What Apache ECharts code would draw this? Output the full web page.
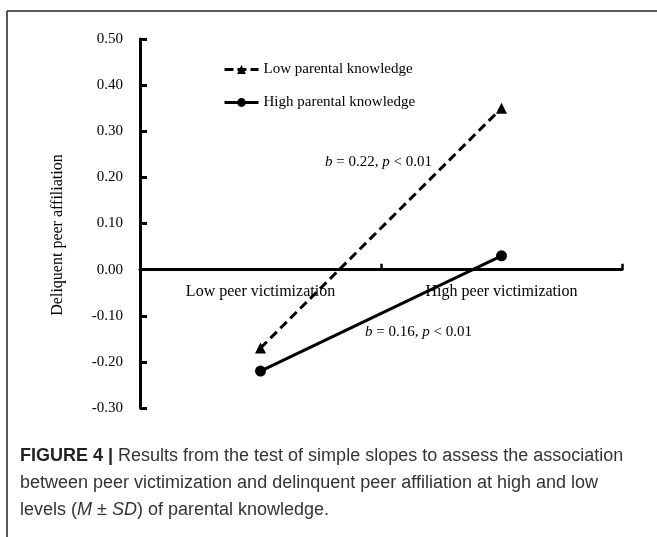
<!DOCTYPE html>
<html>
<head>
<meta charset="utf-8">
<script src="https://cdn.jsdelivr.net/npm/echarts@6/dist/echarts.min.js"></script>
<style>html,body{margin:0;padding:0;background:#fff;}#chart{width:657px;height:537px;}</style>
</head>
<body>
<div id="chart"></div>
<script>
const categories = ['Low peer victimization', 'High peer victimization'];
const lowKnowledge = [-0.17, 0.35];
const highKnowledge = [-0.22, 0.03];
const seriesNames = ['Low parental knowledge', 'High parental knowledge'];
const yTicks = {min: -0.30, max: 0.50, interval: 0.10};
const yTitle = 'Deliquent peer affiliation';
const slopeLow = {b: '0.22', p: '0.01'};
const slopeHigh = {b: '0.16', p: '0.01'};

const serif = '"Liberation Serif", "Times New Roman", serif';
const sans = '"Liberation Sans", Arial, sans-serif';

const gridTop = 39, gridBottom = 129, chartH = 537;
const plotH = chartH - gridTop - gridBottom;
// pixel distance from bottom of grid up to the zero line
const zeroOffset = plotH * (0 - yTicks.min) / (yTicks.max - yTicks.min);

const chart = echarts.init(document.getElementById('chart'), null, {renderer: 'canvas'});

function slopeText(s) {
  return {
    text: '{i|b}{r| = ' + s.b + ', }{i|p}{r| < ' + s.p + '}',
    rich: {
      i: {fontFamily: serif, fontStyle: 'italic', fontSize: 15, fill: '#000'},
      r: {fontFamily: serif, fontSize: 15, fill: '#000'}
    }
  };
}

const capRich = {
  b: {fontFamily: sans, fontWeight: 'bold', fontSize: 18, fill: '#222'},
  r: {fontFamily: sans, fontSize: 18, fill: '#333'},
  i: {fontFamily: sans, fontStyle: 'italic', fontSize: 18, fill: '#333'}
};

chart.setOption({
  animation: false,
  backgroundColor: '#fff',
  grid: {left: 140, right: 35, top: gridTop, bottom: gridBottom, containLabel: false},
  legend: {
    orient: 'vertical',
    left: 218,
    top: 57,
    itemWidth: 34,
    itemHeight: 11,
    itemGap: 18,
    textStyle: {fontFamily: serif, fontSize: 15, color: '#000'},
    data: [
      {name: seriesNames[0], lineStyle: {width: 3, type: [9, 4], color: '#000'}},
      {name: seriesNames[1], lineStyle: {width: 3, color: '#000'}}
    ]
  },
  xAxis: {
    type: 'category',
    data: categories,
    boundaryGap: true,
    offset: -zeroOffset,
    axisLine: {onZero: false, lineStyle: {color: '#000', width: 3}},
    axisTick: {show: true, inside: true, length: 6, lineStyle: {color: '#000', width: 2.5}},
    axisLabel: {fontFamily: serif, fontSize: 16, color: '#000', margin: 14},
    splitLine: {show: false}
  },
  yAxis: {
    type: 'value',
    min: yTicks.min,
    max: yTicks.max,
    interval: yTicks.interval,
    axisLine: {show: true, lineStyle: {color: '#000', width: 3}},
    axisTick: {show: true, inside: true, length: 7, lineStyle: {color: '#000', width: 3}},
    axisLabel: {fontFamily: serif, fontSize: 15, color: '#000', margin: 17, formatter: v => v.toFixed(2)},
    splitLine: {show: false}
  },
  series: [
    {
      name: seriesNames[0],
      type: 'line',
      data: lowKnowledge,
      symbol: 'triangle',
      symbolSize: 11,
      lineStyle: {color: '#000', width: 3, type: [9, 5]},
      itemStyle: {color: '#000'}
    },
    {
      name: seriesNames[1],
      type: 'line',
      data: highKnowledge,
      symbol: 'circle',
      symbolSize: 11,
      lineStyle: {color: '#000', width: 3},
      itemStyle: {color: '#000'}
    }
  ],
  graphic: [
    {type: 'line', shape: {x1: 7, y1: 11, x2: 657, y2: 11}, style: {stroke: '#222', lineWidth: 1.5}},
    {type: 'line', shape: {x1: 7, y1: 11, x2: 7, y2: 537}, style: {stroke: '#222', lineWidth: 1.5}},
    {type: 'text', x: 58, y: 235, rotation: Math.PI / 2,
      style: {text: yTitle, fontFamily: serif, fontSize: 16, fill: '#000', align: 'center', verticalAlign: 'middle'}},
    {type: 'text', x: 325, y: 162, style: Object.assign(slopeText(slopeLow), {verticalAlign: 'middle'})},
    {type: 'text', x: 365, y: 332, style: Object.assign(slopeText(slopeHigh), {verticalAlign: 'middle'})},
    {type: 'text', x: 20, y: 456, style: {text: '{b|FIGURE 4 |}{r| Results from the test of simple slopes to assess the association}', rich: capRich, verticalAlign: 'middle'}},
    {type: 'text', x: 20, y: 483, style: {text: '{r|between peer victimization and delinquent peer affiliation at high and low}', rich: capRich, verticalAlign: 'middle'}},
    {type: 'text', x: 20, y: 510, style: {text: '{r|levels (}{i|M}{r| \u00B1 }{i|SD}{r|) of parental knowledge.}', rich: capRich, verticalAlign: 'middle'}}
  ]
});
</script>
</body>
</html>
